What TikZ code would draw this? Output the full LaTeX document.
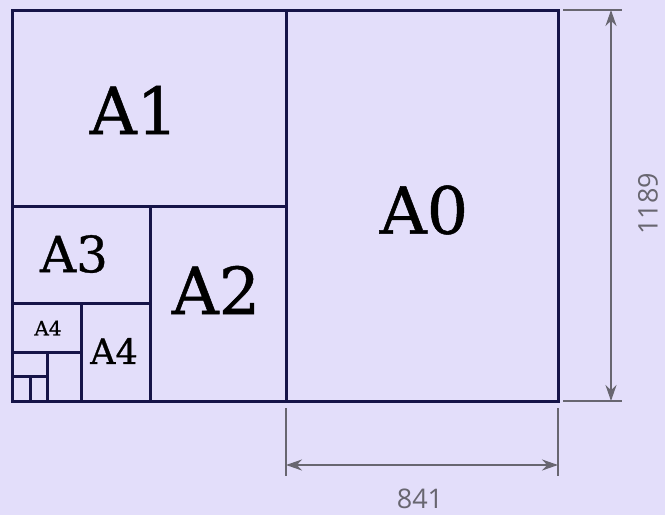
\documentclass[tikz,border=0pt]{standalone}
\usepackage{fontspec}
\usetikzlibrary{arrows.meta, positioning, calc}
\newfontfamily\slabfont[FakeBold=0.8]{DejaVu Serif}
\newfontfamily\dimfont{Open Sans}
\definecolor{paperbg}{RGB}{227, 222, 250}
\definecolor{sheetline}{RGB}{22, 20, 72}
\definecolor{dimgray}{RGB}{104, 102, 112}

\begin{document}
\begin{tikzpicture}[
    x=1pt, y=-1pt,
    sheet/.style={draw=sheetline, line width=3pt},
    sizelabel/.style={text=black, inner sep=0pt, anchor=center},
    extline/.style={draw=dimgray, line width=2.4pt},
    dimarrow/.style={{Stealth[length=16pt, width=11pt]}-{Stealth[length=16pt, width=11pt]}, draw=dimgray, line width=2.4pt},
    dimlabel/.style={text=dimgray, inner sep=0pt, font=\dimfont\fontsize{27}{32}\selectfont}
]

% Background
\fill[paperbg] (0,0) rectangle (665,515);
\useasboundingbox (0,0) rectangle (665,515);

% Sheets
\draw[sheet] (12,10) rectangle (558,401);
\draw[sheet] (286,10) -- (286,401);
\draw[sheet] (12,206) -- (286,206);
\draw[sheet] (150,206) -- (150,401);
\draw[sheet] (12,303) -- (150,303);
\draw[sheet] (81,303) -- (81,401);
\draw[sheet] (12,352) -- (81,352);
\draw[sheet] (47,352) -- (47,401);
\draw[sheet] (12,376) -- (47,376);
\draw[sheet] (30,376) -- (30,401);

% Sheet names
\node[sizelabel, font=\slabfont\fontsize{65}{70}\selectfont] (a0) at (424,210) {A0};
\node[sizelabel, font=\slabfont\fontsize{65}{70}\selectfont] (a1) at (134,110) {A1};
\node[sizelabel, font=\slabfont\fontsize{65}{70}\selectfont] (a2) at (216,290) {A2};
\node[sizelabel, font=\slabfont\fontsize{50}{56}\selectfont] (a3) at (74,254) {A3};
\node[sizelabel, font=\slabfont\fontsize{35}{40}\selectfont] (a4big) at (114,351) {A4};
\node[sizelabel, font=\slabfont\fontsize{20}{24}\selectfont] (a4small) at (48,328) {A4};

% Dimension points
\coordinate (htop) at (611,10);
\coordinate (hbot) at (611,401);
\coordinate (wleft) at (286,465);
\coordinate (wright) at (558,465);

% Extension lines
\draw[extline] (563,10) -- (622,10);
\draw[extline] (563,401) -- (622,401);
\draw[extline] (286,408) -- (286,476);
\draw[extline] (558,408) -- (558,476);

% Dimensions
\draw[dimarrow] (htop) -- (hbot);
\draw[dimarrow] (wleft) -- (wright);
\node[dimlabel, rotate=90] (height) at (648,204) {1189};
\node[dimlabel] (width) at (420,499) {841};

\end{tikzpicture}
\end{document}
